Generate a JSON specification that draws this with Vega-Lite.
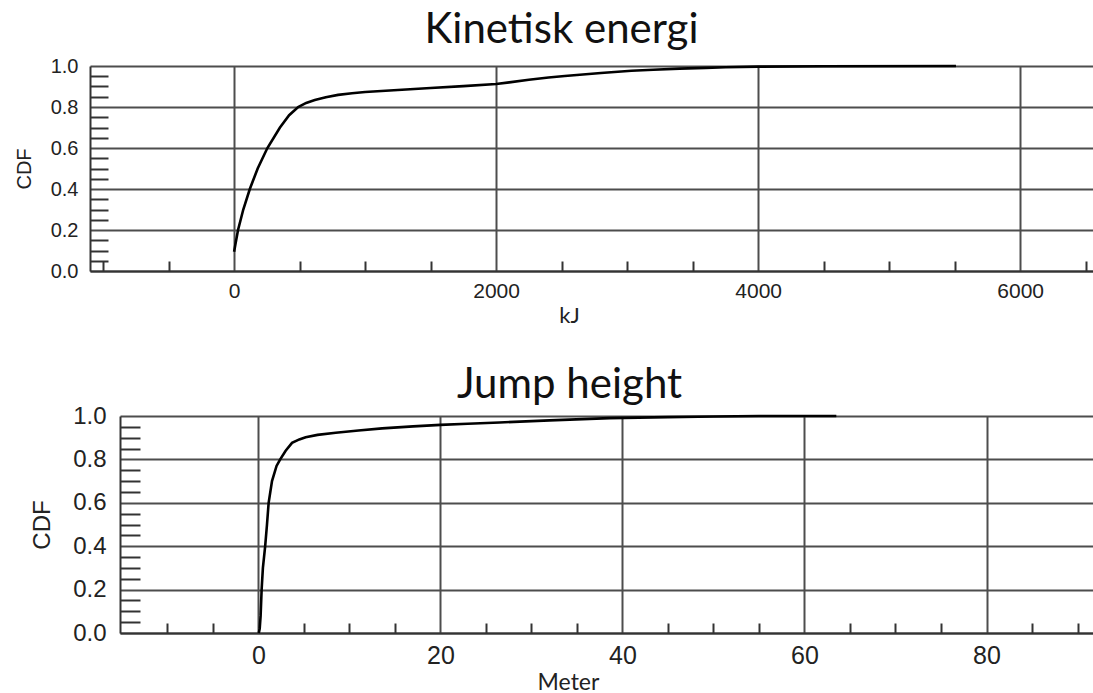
{
  "$schema": "https://vega.github.io/schema/vega-lite/v6.json",
  "background": "white",
  "padding": {"left": 14, "top": 9, "right": 0, "bottom": 0},
  "center": true,
  "spacing": 38,
  "config": {
    "view": {"stroke": null},
    "axis": {
      "labelFont": "Liberation Sans",
      "labelColor": "#222",
      "titleFontWeight": "normal",
      "titleColor": "#222",
      "gridColor": "#4d4d4d",
      "gridWidth": 2,
      "domainColor": "#333",
      "domainWidth": 2,
      "tickColor": "#333",
      "tickWidth": 2
    }
  },
  "datasets": {
    "kinetic": [
      {"kj": 0, "cdf": 0.094}, {"kj": 10, "cdf": 0.13}, {"kj": 30, "cdf": 0.2}, {"kj": 70, "cdf": 0.3},
      {"kj": 120, "cdf": 0.4}, {"kj": 180, "cdf": 0.5}, {"kj": 254, "cdf": 0.6}, {"kj": 350, "cdf": 0.7},
      {"kj": 420, "cdf": 0.76}, {"kj": 489, "cdf": 0.8}, {"kj": 550, "cdf": 0.82}, {"kj": 616, "cdf": 0.834},
      {"kj": 700, "cdf": 0.848}, {"kj": 794, "cdf": 0.859}, {"kj": 900, "cdf": 0.867}, {"kj": 1000, "cdf": 0.873},
      {"kj": 1250, "cdf": 0.883}, {"kj": 1500, "cdf": 0.893}, {"kj": 1750, "cdf": 0.902}, {"kj": 2000, "cdf": 0.912},
      {"kj": 2100, "cdf": 0.92}, {"kj": 2250, "cdf": 0.933}, {"kj": 2400, "cdf": 0.944}, {"kj": 2524, "cdf": 0.951},
      {"kj": 2800, "cdf": 0.966}, {"kj": 3033, "cdf": 0.977}, {"kj": 3200, "cdf": 0.982}, {"kj": 3400, "cdf": 0.987},
      {"kj": 3600, "cdf": 0.991}, {"kj": 3750, "cdf": 0.994}, {"kj": 4000, "cdf": 0.997}, {"kj": 4500, "cdf": 0.999},
      {"kj": 5510, "cdf": 1.0}
    ],
    "jump": [
      {"m": 0.05, "cdf": 0.0}, {"m": 0.15, "cdf": 0.02}, {"m": 0.25, "cdf": 0.08}, {"m": 0.36, "cdf": 0.2},
      {"m": 0.5, "cdf": 0.3}, {"m": 0.75, "cdf": 0.4}, {"m": 0.95, "cdf": 0.5}, {"m": 1.13, "cdf": 0.6},
      {"m": 1.5, "cdf": 0.7}, {"m": 2.0, "cdf": 0.77}, {"m": 2.4, "cdf": 0.8}, {"m": 3.0, "cdf": 0.84},
      {"m": 3.7, "cdf": 0.876}, {"m": 4.5, "cdf": 0.892}, {"m": 5.2, "cdf": 0.902}, {"m": 6.5, "cdf": 0.913},
      {"m": 8.5, "cdf": 0.923}, {"m": 11, "cdf": 0.933}, {"m": 13.6, "cdf": 0.943}, {"m": 17, "cdf": 0.952},
      {"m": 20, "cdf": 0.959}, {"m": 23, "cdf": 0.964}, {"m": 26.5, "cdf": 0.97}, {"m": 32, "cdf": 0.98},
      {"m": 38.6, "cdf": 0.99}, {"m": 45, "cdf": 0.995}, {"m": 50, "cdf": 0.998}, {"m": 55, "cdf": 1.0},
      {"m": 63.5, "cdf": 1.0}
    ]
  },
  "vconcat": [
    {
      "title": {"text": "Kinetisk energi", "font": "Lato", "fontSize": 42, "fontWeight": "normal", "color": "#111", "baseline": "alphabetic", "offset": -29, "dx": -45},
      "width": 1033,
      "height": 205,
      "data": {"name": "kinetic"},
      "layer": [
        {
          "mark": {"type": "line", "color": "black", "strokeWidth": 2.6},
          "encoding": {
            "x": {"field": "kj", "type": "quantitative",
              "scale": {"domain": [-1100, 6785], "nice": false, "zero": false},
              "axis": {"orient": "bottom", "values": [0, 2000, 4000, 6000], "format": "d", "grid": true, "ticks": false, "tickSize": 0,
                "labelFontSize": 21, "labelPadding": 9, "title": "kJ", "titleFont": "Lato", "titleFontSize": 22,
                "titleX": 479, "titleY": 51, "titleBaseline": "alphabetic"}},
            "y": {"field": "cdf", "type": "quantitative",
              "scale": {"domain": [0, 1], "nice": false},
              "axis": {"orient": "left", "values": [0, 0.2, 0.4, 0.6, 0.8, 1.0], "format": ".1f", "grid": true, "ticks": false, "tickSize": 0,
                "labelFontSize": 20, "labelPadding": 12, "title": "CDF", "titleFont": "Liberation Sans", "titleFontSize": 20,
                "titlePadding": 16}}
          }
        },
        {
          "mark": {"type": "line", "strokeOpacity": 0},
          "encoding": {
            "x": {"field": "kj", "type": "quantitative",
              "axis": {"orient": "bottom", "values": [-1000, -500, 500, 1000, 1500, 2500, 3000, 3500, 4500, 5000, 5500, 6500],
                "tickSize": -10, "labels": false, "domain": false, "grid": false, "title": null}},
            "y": {"field": "cdf", "type": "quantitative",
              "axis": {"orient": "left", "values": [0.05, 0.1, 0.15, 0.25, 0.3, 0.35, 0.45, 0.5, 0.55, 0.65, 0.7, 0.75, 0.85, 0.9, 0.95],
                "tickSize": -18, "labels": false, "domain": false, "grid": false, "title": null}}
          }
        }
      ],
      "resolve": {"axis": {"x": "independent", "y": "independent"}}
    },
    {
      "title": {"text": "Jump height", "font": "Lato", "fontSize": 42, "fontWeight": "normal", "color": "#111", "baseline": "alphabetic", "offset": -36, "dx": -37},
      "width": 973,
      "height": 217,
      "data": {"name": "jump"},
      "layer": [
        {
          "mark": {"type": "line", "color": "black", "strokeWidth": 2.6},
          "encoding": {
            "x": {"field": "m", "type": "quantitative",
              "scale": {"domain": [-15.2, 91.7], "nice": false, "zero": false},
              "axis": {"orient": "bottom", "values": [0, 20, 40, 60, 80], "format": "d", "grid": true, "ticks": false, "tickSize": 0,
                "labelFontSize": 25, "labelPadding": 10, "title": "Meter", "titleFont": "Lato", "titleFontSize": 23,
                "titleX": 448, "titleY": 56, "titleBaseline": "alphabetic"}},
            "y": {"field": "cdf", "type": "quantitative",
              "scale": {"domain": [0, 1], "nice": false},
              "axis": {"orient": "left", "values": [0, 0.2, 0.4, 0.6, 0.8, 1.0], "format": ".1f", "grid": true, "ticks": false, "tickSize": 0,
                "labelFontSize": 24, "labelPadding": 14, "title": "CDF", "titleFont": "Liberation Sans", "titleFontSize": 24,
                "titlePadding": 18}}
          }
        },
        {
          "mark": {"type": "line", "strokeOpacity": 0},
          "encoding": {
            "x": {"field": "m", "type": "quantitative",
              "axis": {"orient": "bottom", "values": [-10, -5, 5, 10, 15, 25, 30, 35, 45, 50, 55, 65, 70, 75, 85, 90],
                "tickSize": -10, "labels": false, "domain": false, "grid": false, "title": null}},
            "y": {"field": "cdf", "type": "quantitative",
              "axis": {"orient": "left", "values": [0.05, 0.1, 0.15, 0.25, 0.3, 0.35, 0.45, 0.5, 0.55, 0.65, 0.7, 0.75, 0.85, 0.9, 0.95],
                "tickSize": -20, "labels": false, "domain": false, "grid": false, "title": null}}
          }
        }
      ],
      "resolve": {"axis": {"x": "independent", "y": "independent"}}
    }
  ]
}
